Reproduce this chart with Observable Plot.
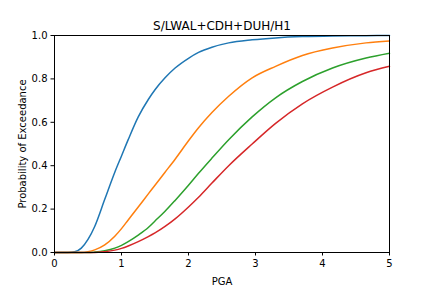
<!DOCTYPE html>
<html><head><meta charset="utf-8">
<script src="https://cdn.jsdelivr.net/npm/d3@7"></script>
<script src="https://cdn.jsdelivr.net/npm/@observablehq/plot@0.6"></script>
<style>body{margin:0;background:#fff}</style>
</head><body><div id="chart"></div>
<script>
const title = "S/LWAL+CDH+DUH/H1";
const xLabel = "PGA";
const yLabel = "Probability of Exceedance";
const pga = [0, 0.1, 0.2, 0.3, 0.4, 0.5, 0.6, 0.75, 0.9, 1.0, 1.1, 1.25, 1.4, 1.5, 1.65, 1.8, 2.0, 2.15, 2.35, 2.6, 2.95, 3.3, 3.7, 4.15, 4.65, 5.0];
const blue   = [0, 0, 0, 0.003, 0.02, 0.06, 0.12, 0.245, 0.37, 0.445, 0.52, 0.625, 0.705, 0.75, 0.805, 0.85, 0.895, 0.922, 0.946, 0.966, 0.98, 0.989, 0.995, 0.998, 0.999, 1.0];
const orange = [0, 0, 0, 0, 0, 0.004, 0.012, 0.035, 0.075, 0.11, 0.15, 0.21, 0.27, 0.31, 0.37, 0.43, 0.515, 0.575, 0.645, 0.72, 0.805, 0.858, 0.908, 0.942, 0.966, 0.975];
const green  = [0, 0, 0, 0, 0, 0, 0.002, 0.008, 0.02, 0.033, 0.05, 0.08, 0.115, 0.145, 0.19, 0.24, 0.31, 0.365, 0.435, 0.52, 0.625, 0.713, 0.788, 0.85, 0.896, 0.918];
const red    = [0, 0, 0, 0, 0, 0, 0, 0.004, 0.011, 0.019, 0.03, 0.05, 0.073, 0.09, 0.12, 0.155, 0.21, 0.255, 0.32, 0.4, 0.5, 0.595, 0.685, 0.762, 0.828, 0.858];
const seriesNames = ["DS1", "DS2", "DS3", "DS4"];
const seriesValues = [blue, orange, green, red];
const colors = ["#1f77b4", "#ff7f0e", "#2ca02c", "#d62728"];
const xTicks = [0, 1, 2, 3, 4, 5];
const yTicks = [0, 0.2, 0.4, 0.6, 0.8, 1.0];

const rows = [];
seriesValues.forEach((vals, i) => {
  vals.forEach((v, j) => rows.push({s: seriesNames[i], x: pga[j], y: v}));
});

const chart = Plot.plot({
  width: 432, height: 288,
  marginLeft: 54, marginRight: 43, marginTop: 35, marginBottom: 36,
  style: {fontFamily: "DejaVu Sans", fontSize: "10px", background: "white", color: "black"},
  x: {domain: [0, 5]},
  y: {domain: [0, 1]},
  color: {domain: seriesNames, range: colors},
  marks: [
    Plot.line(rows, {x: "x", y: "y", stroke: "s", strokeWidth: 1.5, z: "s", curve: "monotone-x"}),
    Plot.frame({stroke: "black", strokeWidth: 1}),
    Plot.axisX({ticks: xTicks, tickFormat: d3.format("d"), tickSize: 3.5, tickPadding: 3.5, label: xLabel, labelAnchor: "center", labelArrow: "none", labelOffset: 32}),
    Plot.axisY({ticks: yTicks, tickFormat: d3.format(".1f"), tickSize: 3.5, tickPadding: 3.5, label: yLabel, labelAnchor: "center", labelArrow: "none", labelOffset: 36}),
    Plot.text([title], {text: d => d, frameAnchor: "top", lineAnchor: "bottom", dy: -6, fontSize: 12})
  ]
});
document.getElementById("chart").appendChild(chart);
</script>
</body></html>
